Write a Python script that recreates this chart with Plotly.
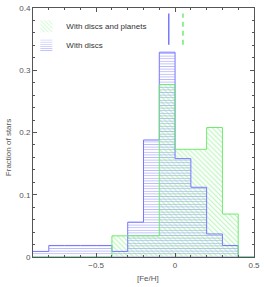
import plotly.graph_objects as go

# Data
bin_edges = [-0.9, -0.8, -0.7, -0.6, -0.5, -0.4, -0.3, -0.2, -0.1, 0.0, 0.1, 0.2, 0.3, 0.4, 0.5]
frac_discs = [0.009, 0.0185, 0.0185, 0.0185, 0.0185, 0.009, 0.056, 0.188, 0.329, 0.158, 0.112, 0.037, 0.0185, 0.0]
frac_planets = [0.0, 0.0, 0.0, 0.0, 0.0, 0.034, 0.034, 0.034, 0.277, 0.173, 0.173, 0.208, 0.069, 0.0]
mean_discs = -0.04
mean_planets = 0.05
mean_line_span = [0.341, 0.391]
xticks = [-0.5, 0, 0.5]
xticklabels = ["\u22120.5", "0", "0.5"]
yticks = [0, 0.1, 0.2, 0.3, 0.4]
yticklabels = ["0", "0.1", "0.2", "0.3", "0.4"]

BLUE = "rgb(120,120,255)"
GREEN = "rgb(110,235,110)"
TXT = "#555555"
FONT = "Liberation Sans"

centers = [(a + b) / 2 for a, b in zip(bin_edges[:-1], bin_edges[1:])]
widths = [b - a for a, b in zip(bin_edges[:-1], bin_edges[1:])]

fig = go.Figure()

fig.add_trace(go.Bar(
    x=centers, y=frac_discs, width=widths, name="With discs",
    marker=dict(color="rgba(0,0,0,0)", line=dict(width=0),
                pattern=dict(shape="-", fgcolor=BLUE, size=2.6, solidity=0.35, fillmode="overlay")),
    legendrank=2,
))
fig.add_trace(go.Bar(
    x=centers, y=frac_planets, width=widths, name="With discs and planets",
    marker=dict(color="rgba(0,0,0,0)", line=dict(width=0),
                pattern=dict(shape="\\", fgcolor=GREEN, size=3.5, solidity=0.3, fillmode="overlay")),
    legendrank=1,
))

# step outlines
fig.add_trace(go.Scatter(
    x=bin_edges, y=frac_discs + [frac_discs[-1]], mode="lines", line=dict(color=BLUE, width=1, shape="hv"),
    showlegend=False, hoverinfo="skip"))
fig.add_trace(go.Scatter(
    x=bin_edges, y=frac_planets + [frac_planets[-1]], mode="lines", line=dict(color=GREEN, width=1, shape="hv"),
    showlegend=False, hoverinfo="skip"))

# mean lines
fig.add_trace(go.Scatter(
    x=[mean_discs, mean_discs], y=mean_line_span, mode="lines",
    line=dict(color=BLUE, width=1.5), showlegend=False, hoverinfo="skip"))
fig.add_trace(go.Scatter(
    x=[mean_planets, mean_planets], y=mean_line_span, mode="lines",
    line=dict(color=GREEN, width=1.5, dash="5px,4px"), showlegend=False, hoverinfo="skip"))

axis_common = dict(
    showline=True, linecolor=TXT, linewidth=1, mirror="ticks", ticks="inside", ticklen=4,
    tickcolor=TXT, tickwidth=1, showgrid=False, zeroline=False,
    tickfont=dict(family=FONT, size=8, color=TXT),
)

fig.update_layout(
    width=264, height=287,
    margin=dict(l=33, r=8, t=4, b=30),
    paper_bgcolor="white", plot_bgcolor="white",
    barmode="overlay", bargap=0,
    showlegend=True,
    legend=dict(x=-0.03, y=0.985, xanchor="left", yanchor="top",
                font=dict(family=FONT, size=8, color="#333333"),
                bgcolor="rgba(0,0,0,0)", itemwidth=30, tracegroupgap=0),
    xaxis=dict(range=[-0.9, 0.5], tickvals=xticks, ticktext=xticklabels,
               minor=dict(dtick=0.1, tick0=0, ticks="inside", ticklen=2, tickcolor=TXT),
               **axis_common),
    yaxis=dict(range=[0, 0.4], tickvals=yticks, ticktext=yticklabels,
               minor=dict(dtick=0.02, tick0=0, ticks="inside", ticklen=2, tickcolor=TXT),
               **axis_common),
    annotations=[
        dict(text="[Fe/H]", x=0.52, y=-0.085, xref="paper", yref="paper", showarrow=False,
             xanchor="center", yanchor="middle", font=dict(family=FONT, size=8, color=TXT)),
        dict(text="Fraction of stars", x=-0.11, y=0.44, xref="paper", yref="paper", showarrow=False,
             textangle=-90, xanchor="center", yanchor="middle", font=dict(family=FONT, size=8, color=TXT)),
    ],
)

fig.write_html("out.html", config={"displayModeBar": False},
               post_script="document.body.style.margin='0';document.body.style.overflow='hidden';")
